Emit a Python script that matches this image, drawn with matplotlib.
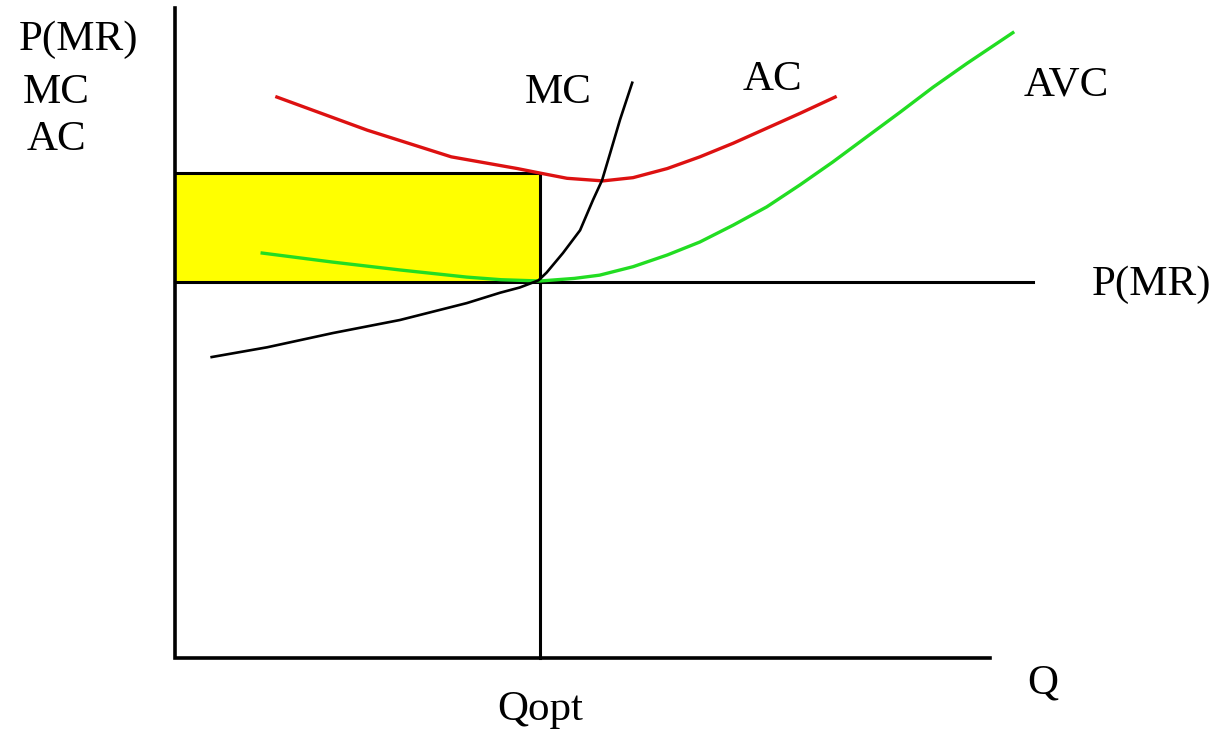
import matplotlib.pyplot as plt

# economic units: Q along x (0..10), price along y (0..10)
q_opt = 4.48
price = 5.785
ac_at_qopt = 7.46

ac_q = [1.25, 2.36, 3.39, 4.20, 4.48, 4.81, 5.25, 5.62, 6.04, 6.44, 6.85, 7.26, 7.67, 8.10]
ac_p = [8.63, 8.12, 7.71, 7.53, 7.46, 7.38, 7.34, 7.39, 7.53, 7.71, 7.92, 8.15, 8.38, 8.63]

mc_q = [0.45, 1.13, 1.94, 2.76, 3.58, 3.99, 4.23, 4.46, 4.56, 4.76, 4.97, 5.13, 5.24, 5.34, 5.46, 5.61]
mc_p = [4.63, 4.78, 5.00, 5.20, 5.46, 5.62, 5.70, 5.81, 5.93, 6.23, 6.58, 7.05, 7.35, 7.77, 8.28, 8.85]

avc_q = [1.07, 1.94, 2.76, 3.58, 4.00, 4.48, 4.90, 5.21, 5.62, 6.04, 6.44, 6.85, 7.26,
         7.67, 8.07, 8.49, 8.90, 9.30, 9.72, 10.28]
avc_p = [6.23, 6.09, 5.97, 5.86, 5.82, 5.80, 5.84, 5.89, 6.02, 6.20, 6.40, 6.66, 6.94,
         7.28, 7.63, 8.02, 8.40, 8.78, 9.15, 9.62]

fig = plt.figure(figsize=(12.21, 7.34), dpi=100)
ax = fig.add_axes([0, 0, 1, 1])
ax.set_xlim(-2.147, 12.834)
ax.set_ylim(-1.169, 10.123)
ax.axis('off')

# loss rectangle
ax.fill_between([0, q_opt], price, ac_at_qopt, color='#ffff00', zorder=1)
ax.plot([0, q_opt, q_opt], [ac_at_qopt, ac_at_qopt, 0], color='black', lw=2.2, zorder=2)

# axes and price line
ax.plot([0, 0, 10], [10, 0, 0], color='black', lw=2.6, solid_joinstyle='miter', zorder=3)
ax.plot([0, 10.53], [price, price], color='black', lw=2.2, zorder=3)

ax.plot(ac_q, ac_p, color='#dd1111', lw=2.4, zorder=4)
ax.plot(avc_q, avc_p, color='#22dd22', lw=2.4, zorder=4)
ax.plot(mc_q, mc_p, color='black', lw=1.9, zorder=5)

font = dict(family='Liberation Serif', size=31, ha='center', va='center',
            transform=ax.transAxes)
labels = [('P(MR)', 79, 40), ('MC', 56, 93), ('AC', 56, 140),
          ('MC', 558, 93), ('AC', 772, 80), ('AVC', 1066, 85),
          ('P(MR)', 1152, 285), ('Q', 1043, 683), ('Qopt', 540, 710)]
for txt, px, py in labels:
    ax.text(px / 1221, 1 - py / 734, txt, **font)

fig.savefig('out.png', dpi=100)
